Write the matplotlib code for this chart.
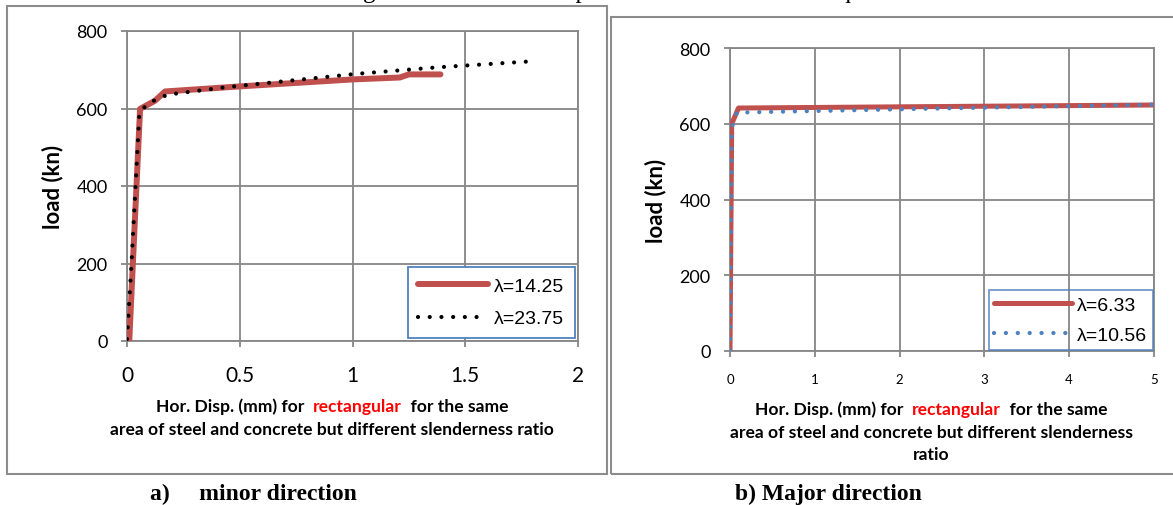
import matplotlib
matplotlib.use("Agg")
import matplotlib.pyplot as plt
from matplotlib.patches import Rectangle

W, H = 1173, 506

# (a) minor direction
minor_x_14 = [0.01, 0.058, 0.124, 0.169, 0.5, 1.0, 1.21, 1.25, 1.39]
minor_y_14 = [0, 599, 620, 644, 657, 675, 680, 688, 688]
minor_x_23 = [0.0, 0.02, 0.055, 0.087, 0.13, 0.183, 0.44, 1.01, 1.37, 1.8]
minor_y_23 = [5, 200, 590, 609, 624, 636, 655, 689, 706, 722]

# (b) major direction
major_x_6 = [0.0, 0.02, 0.1, 2.5, 5.0]
major_y_6 = [0, 600, 642, 646, 650]
major_x_10 = [0.0, 0.02, 0.08, 2.5, 5.0]
major_y_10 = [0, 590, 630, 641, 651]

RED = "#C0504D"
BLUE = "#4F81BD"
GRID = "#868686"
FRAME = "#8C8C8C"

TICK_FONT = "Lato"
LABEL_FONT = "Lato"
LEGEND_FONT = "Liberation Sans"
SERIF = "Liberation Serif"


def px_axes(fig, x0, y0, x1, y1):
    # pixel box (top-left origin) -> figure fraction
    return fig.add_axes([x0 / W, (H - y1) / H, (x1 - x0) / W, (y1 - y0) / H])


def style_axes(ax, xticks, xsize):
    ax.set_ylim(0, 800)
    ax.set_yticks([0, 200, 400, 600, 800])
    ax.set_xticks(xticks)
    ax.set_xlim(xticks[0], xticks[-1])
    ax.grid(True, color=GRID, linewidth=1.3)
    ax.set_axisbelow(True)
    for s in ax.spines.values():
        s.set_color(GRID)
        s.set_linewidth(1.3)
    ax.tick_params(axis="both", direction="out", length=4, width=1.3, color=GRID)
    ax.tick_params(axis="y", pad=10, labelsize=13)
    ax.tick_params(axis="x", labelsize=xsize)
    for lab in ax.get_xticklabels() + ax.get_yticklabels():
        lab.set_fontfamily(TICK_FONT)
    ax.set_xticklabels([f"{t:g}" for t in xticks])


def colored_line(fig, cx, y, parts, size=12.6):
    # draw one centred line made of differently coloured pieces
    renderer = fig.canvas.get_renderer()
    full = "".join(s for s, c in parts)
    probe = fig.text(0, 0, "x", fontsize=size, fontweight="bold", fontfamily=LABEL_FONT)
    wx = probe.get_window_extent(renderer).width
    probe.set_text(full + "x")
    total = probe.get_window_extent(renderer).width - wx
    start = 0
    left = cx - total / 2
    for s, c in parts:
        probe.set_text(full[:start] + "x")
        off = probe.get_window_extent(renderer).width - wx if start else 0
        fig.text((left + off) / W, (H - y) / H, s, color=c, fontsize=size,
                 fontweight="bold", fontfamily=LABEL_FONT, ha="left", va="center")
        start += len(s)
    probe.remove()


fig = plt.figure(figsize=(W / 100, H / 100), dpi=100)

# frames around the two charts
fig.patches.append(Rectangle((7 / W, (H - 475) / H), 600 / W, 468 / H, transform=fig.transFigure,
                             fill=False, edgecolor=FRAME, linewidth=1.5))
fig.patches.append(Rectangle((611 / W, (H - 475) / H), 600 / W, 457 / H, transform=fig.transFigure,
                             fill=False, edgecolor=FRAME, linewidth=1.5))

# ---- left chart
ax1 = px_axes(fig, 127, 32, 578, 342)
ax1.plot(minor_x_14, minor_y_14, color=RED, linewidth=4.3, solid_capstyle="round",
         label="λ=14.25", zorder=3)
ax1.plot(minor_x_23, minor_y_23, color="black", linewidth=3, linestyle=(0, (0.01, 2.8)),
         dash_capstyle="round", label="λ=23.75", zorder=4)
style_axes(ax1, [0, 0.5, 1, 1.5, 2], 15)
ax1.tick_params(axis="x", pad=13)
leg1 = ax1.legend(loc="lower right", borderaxespad=0.15, fancybox=False, framealpha=1,
                  edgecolor=BLUE, handlelength=3.6, handletextpad=0.3, labelspacing=0.75,
                  prop={"family": LEGEND_FONT, "size": 14}, borderpad=0.55)
leg1.get_frame().set_linewidth(1.3)
ax1.set_ylabel("load (kn)", fontsize=16, fontweight="bold", fontfamily=LABEL_FONT)
ax1.yaxis.set_label_coords(-0.142, 0.5)

colored_line(fig, 332, 407, [("Hor. Disp. (mm) for  ", "black"), ("rectangular", "#FF0000"),
                             ("  for the same", "black")])
colored_line(fig, 332, 430, [("area of steel and concrete but different slenderness ratio", "black")])

# ---- right chart
ax2 = px_axes(fig, 730, 49.3, 1154, 351.7)
ax2.plot(major_x_6, major_y_6, color=RED, linewidth=3.6, solid_capstyle="round",
         label="λ=6.33", zorder=3)
ax2.plot(major_x_10, major_y_10, color=BLUE, linewidth=3.1, linestyle=(0, (0.01, 2.75)),
         dash_capstyle="round", label="λ=10.56", zorder=4)
style_axes(ax2, [0, 1, 2, 3, 4, 5], 9.5)
ax2.tick_params(axis="x", pad=12)
leg2 = ax2.legend(loc="lower right", borderaxespad=0.05, fancybox=False,
                  edgecolor=BLUE, handlelength=4.0, handletextpad=0.25, labelspacing=0.65,
                  prop={"family": LEGEND_FONT, "size": 14}, borderpad=0.3)
leg2.get_frame().set_facecolor("none")
leg2.get_frame().set_linewidth(1.3)
leg2.get_frame().set_edgecolor(BLUE)
ax2.set_ylabel("load (kn)", fontsize=16, fontweight="bold", fontfamily=LABEL_FONT)
ax2.yaxis.set_label_coords(-0.151, 0.5)

colored_line(fig, 931, 410, [("Hor. Disp. (mm) for  ", "black"), ("rectangular", "#FF0000"),
                             ("  for the same", "black")])
colored_line(fig, 931, 433, [("area of steel and concrete but different slenderness", "black")])
colored_line(fig, 931, 455, [("ratio", "black")])

# captions under the panels
fig.text(150 / W, (H - 494) / H, "a)     minor direction", fontsize=17, fontweight="bold",
         fontfamily=SERIF, ha="left", va="center")
fig.text(735 / W, (H - 494) / H, "b) Major direction", fontsize=17, fontweight="bold",
         fontfamily=SERIF, ha="left", va="center")

# figure title, cut off by the top of the image as in the source page
fig.text(342 / W, (H + 1.5) / H, "Figure 10: The load displacement curves for the square column",
         fontsize=18, fontfamily=SERIF, ha="left", va="baseline")

fig.savefig("out.png", dpi=100)
